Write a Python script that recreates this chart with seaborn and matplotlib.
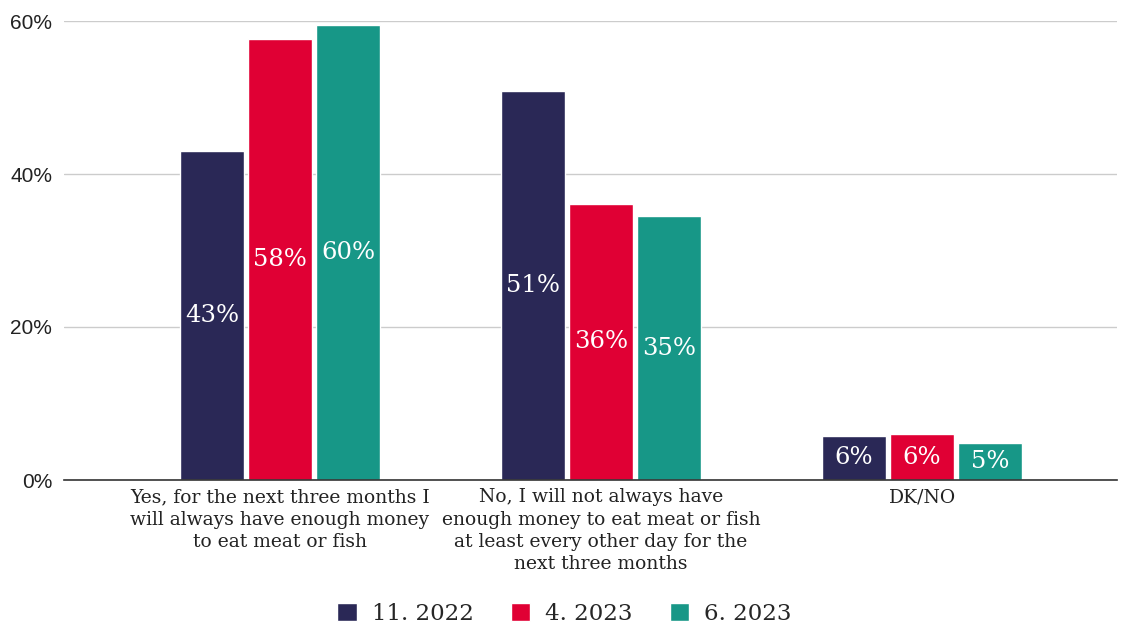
import pandas as pd
import numpy as np
import matplotlib
matplotlib.use('Agg')
import matplotlib.pyplot as plt
import seaborn as sns

# %% Data
categories = [
    'Yes, for the next three months I\nwill always have enough money\nto eat meat or fish',
    'No, I will not always have\nenough money to eat meat or fish\nat least every other day for the\nnext three months',
    'DK/NO',
]
waves = ['11. 2022', '4. 2023', '6. 2023']
values_nov22 = [43.0, 50.8, 5.8]
values_apr23 = [57.6, 36.1, 6.0]
values_jun23 = [59.5, 34.5, 4.8]
labels_nov22 = ['43%', '51%', '6%']
labels_apr23 = ['58%', '36%', '6%']
labels_jun23 = ['60%', '35%', '5%']
colors = ['#2a2856', '#e00034', '#179787']

df = pd.DataFrame({
    'answer': categories * 3,
    'wave': [w for w in waves for _ in categories],
    'share': values_nov22 + values_apr23 + values_jun23,
})

# %% Plot
sns.set_style('white')
serif = ['DejaVu Serif', 'Liberation Serif']
fig = plt.figure(figsize=(11.29, 6.31), dpi=100)
ax = fig.add_axes([64 / 1129, 1 - 480 / 631, (1117 - 64) / 1129, (480 - 21) / 631])

sns.barplot(data=df, x='answer', y='share', hue='wave', palette=colors,
            width=0.636, gap=0.06, ax=ax, saturation=1, legend=True)

for cont, labs in zip(ax.containers, [labels_nov22, labels_apr23, labels_jun23]):
    ax.bar_label(cont, labels=labs, label_type='center', color='white',
                 fontsize=17.5, family=serif)

ax.set_ylim(0, 60)
ax.set_xlim(-0.673, 2.607)
ax.set_yticks([0, 20, 40, 60])
ax.set_yticklabels(['0%', '20%', '40%', '60%'], fontsize=15, family='Liberation Sans',
                   color='#222222')
ax.set_xlabel('')
ax.set_ylabel('')
ax.yaxis.grid(True, color='#cccccc', linewidth=1)
ax.set_axisbelow(True)
ax.tick_params(axis='y', length=0, pad=8.5)
ax.tick_params(axis='x', length=0, pad=6)
for lab in ax.get_xticklabels():
    lab.set_fontfamily(serif)
    lab.set_fontsize(13.5)
    lab.set_linespacing(1.3)
    lab.set_verticalalignment('top')
    lab.set_color('#222222')
for side in ['top', 'right', 'left']:
    ax.spines[side].set_visible(False)
ax.spines['bottom'].set_color('#333333')
ax.spines['bottom'].set_linewidth(1.2)

ax.legend(loc='center', bbox_to_anchor=(0.5, 1 - 614 / 631), bbox_transform=fig.transFigure,
          ncol=3, frameon=False, prop={'family': serif, 'size': 16.5},
          handlelength=0.87, handleheight=0.87, columnspacing=1.6, handletextpad=0.65)

fig.savefig('out.png', dpi=100)
